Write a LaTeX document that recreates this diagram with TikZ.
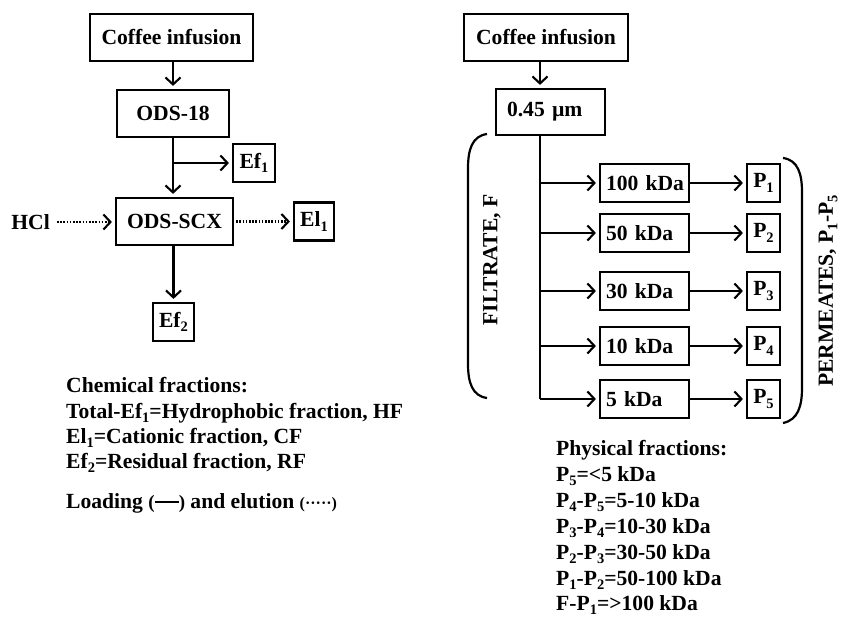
\documentclass[tikz,border=0pt]{standalone}
\usepackage{fontspec}
\setmainfont{Liberation Serif}
\usetikzlibrary{arrows.meta}
\newcommand\sbs[1]{\raisebox{-4.5pt}{\fontsize{14.5}{14.5}\selectfont #1}}
\begin{document}
\begin{tikzpicture}[x=1pt,y=-1pt,
  every node/.style={font=\fontsize{21.6}{26}\selectfont\bfseries},
  box/.style={draw, line width=2.2pt, inner sep=0pt, minimum height=47pt},
  sbox/.style={draw, line width=2.2pt, inner sep=0pt, minimum height=38pt},
  kbox/.style={sbox, minimum width=89pt, text width=77pt, align=left, inner xsep=6pt},
  pbox/.style={sbox, minimum width=33pt},
  arr/.style={line width=2.1pt, -{Straight Barb[length=7pt,width=15pt,line width=2.1pt]}, shorten >=3pt},
  dot/.style={arr, dash pattern=on 1.6pt off 1.6pt},
  ln/.style={line width=2.1pt},
  txt/.style={anchor=base west, inner sep=0pt},
  brk/.style={line width=2.2pt}
]
\useasboundingbox (0,0) rectangle (842,617);
% ---------- left diagram ----------
\node[box, minimum width=163pt] (c1) at (171.5,37.5) {Coffee infusion};
\node[box, minimum width=112pt] (o18) at (173,113.5) {ODS-18};
\node[box, minimum width=117pt] (scx) at (174.5,221.5) {ODS-SCX};
\node[sbox, minimum width=42pt] (ef1) at (254,163) {Ef\sbs{1}};
\node[sbox, minimum width=40pt] (el1) at (314,221.5) {El\sbs{1}};
\node[sbox, minimum width=41pt] (ef2) at (173.5,322) {Ef\sbs{2}};
\node[anchor=east, inner sep=0pt] (hcl) at (50,222) {HCl};
\coordinate (j1) at (173,163);
\draw[arr] (c1.south -| o18.north) -- (o18.north);
\draw[arr] (o18.south) -- (o18.south |- scx.north);
\draw[arr] (j1) -- (ef1.west);
\draw[dot, shorten <=7pt] (hcl.east) -- (scx.west |- hcl.east);
\draw[dot, shorten <=2pt] (scx.east) -- (el1.west);
\draw[arr] (scx.south -| ef2.north) -- (ef2.north);
\node[txt] (t1) at (66,392) {Chemical fractions:};
\node[txt] (t2) at (66,418) {Total-Ef\sbs{1}=Hydrophobic fraction, HF};
\node[txt] (t3) at (66,443) {El\sbs{1}=Cationic fraction, CF};
\node[txt] (t4) at (66,468) {Ef\sbs{2}=Residual fraction, RF};
\node[txt] (t5) at (66,508) {Loading {\fontsize{19}{19}\selectfont(}\rule[5.5pt]{24pt}{1.8pt}{\fontsize{19}{19}\selectfont)} and elution {\fontsize{16}{16}\selectfont(·····)}};
% ---------- right diagram ----------
\node[box, minimum width=164pt] (c2) at (546,37.5) {Coffee infusion};
\node[box, minimum width=109pt, minimum height=46pt, text width=87pt, align=left, inner xsep=11pt] (f45) at (550.5,112) {0.45 µm};
\coordinate (b1) at (540,183);
\coordinate (b2) at (540,233);
\coordinate (b3) at (540,291);
\coordinate (b4) at (540,346);
\coordinate (b5) at (540,399);
\draw[arr] (c2.south -| b1) -- (f45.north -| b1);
\draw[ln] (f45.south -| b1) -- (b5);
\node[kbox] (k1) at (644.5,183) {\mbox{100 kDa}};
\node[kbox] (k2) at (644.5,233) {50 kDa};
\node[kbox] (k3) at (644.5,291) {30 kDa};
\node[kbox] (k4) at (644.5,346) {10 kDa};
\node[kbox] (k5) at (644.5,399) {5 kDa};
\node[pbox] (p1) at (763.5,183) {P\sbs{1}};
\node[pbox] (p2) at (763.5,233) {P\sbs{2}};
\node[pbox] (p3) at (763.5,291) {P\sbs{3}};
\node[pbox] (p4) at (763.5,346) {P\sbs{4}};
\node[pbox] (p5) at (763.5,399) {P\sbs{5}};
\foreach \i in {1,...,5}{
  \draw[arr] (b\i) -- (k\i.west);
  \draw[arr] (k\i.east) -- (p\i.west);
}
\draw[brk] (487,134) .. controls (472,136) and (468,150) .. (468,168) -- (468,364) .. controls (468,382) and (472,396) .. (487,398);
\draw[brk] (783,158) .. controls (798,160) and (802,174) .. (802,192) -- (802,388) .. controls (802,406) and (798,420) .. (783,423);
\node[rotate=90] (filt) at (492,260) {FILTRATE, F};
\node[rotate=90] (perm) at (828,291) {PERMEATES, P\sbs{1}-P\sbs{5}};
\node[txt] (q0) at (556,455) {Physical fractions:};
\node[txt] (q1) at (556,481) {P\sbs{5}=<5 kDa};
\node[txt] (q2) at (556,507) {P\sbs{4}-P\sbs{5}=5-10 kDa};
\node[txt] (q3) at (556,533) {P\sbs{3}-P\sbs{4}=10-30 kDa};
\node[txt] (q4) at (556,559) {P\sbs{2}-P\sbs{3}=30-50 kDa};
\node[txt] (q5) at (556,585) {P\sbs{1}-P\sbs{2}=50-100 kDa};
\node[txt] (q6) at (556,610) {F-P\sbs{1}=>100 kDa};
\end{tikzpicture}
\end{document}
